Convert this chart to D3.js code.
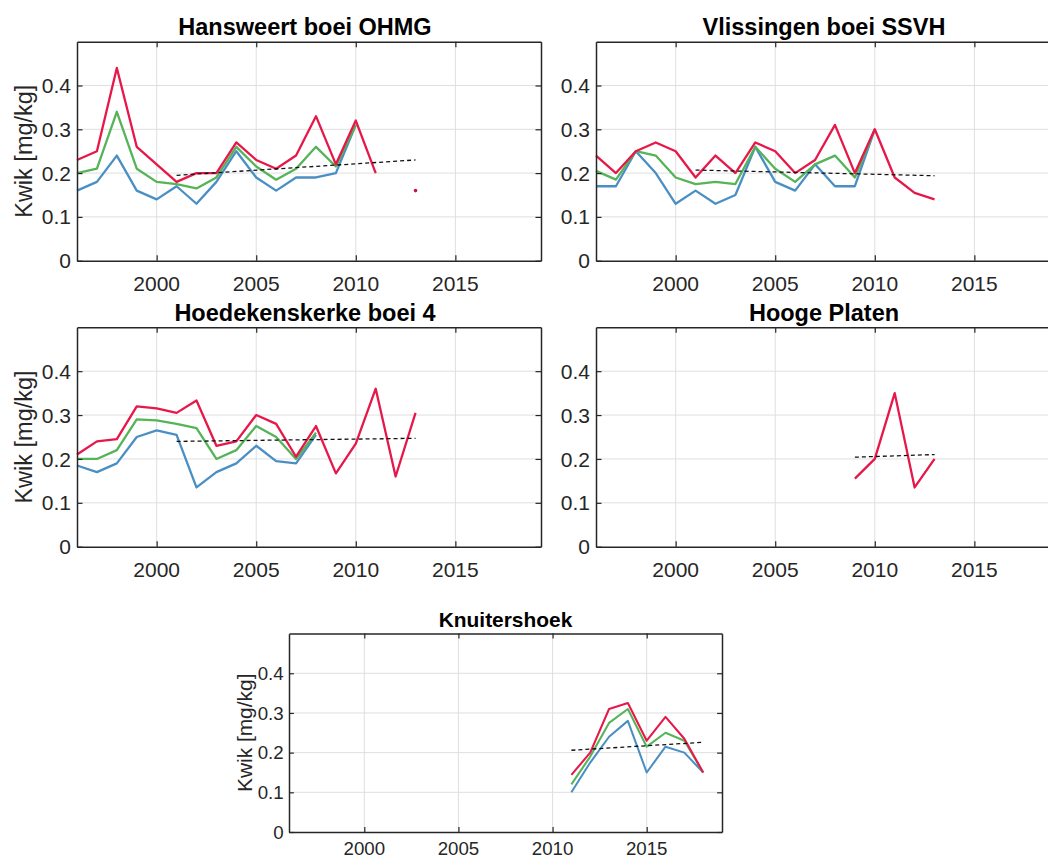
<!DOCTYPE html>
<html>
<head>
<meta charset="utf-8">
<script src="https://cdn.jsdelivr.net/npm/d3@7"></script>
<style>
  html, body { margin: 0; padding: 0; background: #fff; }
  svg { display: block; }
</style>
</head>
<body>
<svg id="chart" width="1048" height="859"></svg>
<script>
// ---------------- DATA ----------------
const titles = ["Hansweert boei OHMG", "Vlissingen boei SSVH", "Hoedekenskerke boei 4", "Hooge Platen", "Knuitershoek"];
const yLabel = "Kwik [mg/kg]";
const xTicks = [2000, 2005, 2010, 2015];
const yTicks = [0, 0.1, 0.2, 0.3, 0.4];
const yTickLabels = ["0", "0.1", "0.2", "0.3", "0.4"];

const yearsA = [1996, 1997, 1998, 1999, 2000, 2001, 2002, 2003, 2004, 2005, 2006, 2007, 2008, 2009, 2010, 2011, 2012, 2013];
const yearsB = [2011, 2012, 2013, 2014, 2015, 2016, 2017, 2018];

const hansweertRed   = [0.23, 0.25, 0.44, 0.26, 0.22, 0.18, 0.20, 0.20, 0.27, 0.23, 0.21, 0.24, 0.33, 0.22, 0.32, 0.20, null, 0.16];
const hansweertGreen = [0.20, 0.21, 0.34, 0.21, 0.18, 0.175, 0.165, 0.19, 0.26, 0.215, 0.185, 0.21, 0.26, 0.215, 0.31, null, null, null];
const hansweertBlue  = [0.16, 0.18, 0.24, 0.16, 0.14, 0.17, 0.13, 0.18, 0.25, 0.19, 0.16, 0.19, 0.19, 0.20, 0.31, null, null, null];

const vlissingenRed   = [0.24, 0.20, 0.25, 0.27, 0.25, 0.19, 0.24, 0.20, 0.27, 0.25, 0.20, 0.23, 0.31, 0.20, 0.30, 0.19, 0.155, 0.14];
const vlissingenGreen = [0.205, 0.185, 0.25, 0.24, 0.19, 0.175, 0.18, 0.175, 0.26, 0.21, 0.18, 0.22, 0.24, 0.19, 0.30, null, null, null];
const vlissingenBlue  = [0.17, 0.17, 0.25, 0.20, 0.13, 0.16, 0.13, 0.15, 0.26, 0.18, 0.16, 0.22, 0.17, 0.17, 0.30, null, null, null];

const hoedekRed   = [0.21, 0.24, 0.245, 0.32, 0.315, 0.305, 0.333, 0.23, 0.24, 0.30, 0.28, 0.205, 0.275, 0.167, 0.235, 0.36, 0.16, 0.305];
const hoedekGreen = [0.20, 0.20, 0.22, 0.29, 0.288, 0.28, 0.27, 0.20, 0.22, 0.275, 0.25, 0.20, 0.26, null, null, null, null, null];
const hoedekBlue  = [0.185, 0.17, 0.19, 0.25, 0.265, 0.255, 0.135, 0.17, 0.19, 0.23, 0.195, 0.19, 0.255, null, null, null, null, null];

const hoogeRed   = [null, null, null, null, null, null, null, null, null, null, null, null, null, 0.155, 0.20, 0.35, 0.135, 0.20];
const hoogeGreen = [null, null, null, null, null, null, null, null, null, null, null, null, null, null, null, null, null, null];
const hoogeBlue  = [null, null, null, null, null, null, null, null, null, null, null, null, null, null, null, null, null, null];

const knuitRed   = [0.144, 0.20, 0.31, 0.325, 0.23, 0.29, 0.235, 0.15];
const knuitGreen = [0.12, 0.19, 0.275, 0.31, 0.215, 0.25, 0.23, 0.15];
const knuitBlue  = [0.10, 0.175, 0.24, 0.28, 0.15, 0.215, 0.20, 0.15];

// trend lines: [startYear, endYear], [startValue, endValue]
const trendYears  = [[2001, 2013], [2001, 2013], [2001, 2013], [2009, 2013], [2011, 2018]];
const trendValues = [[0.195, 0.23], [0.207, 0.194], [0.240, 0.247], [0.204, 0.21], [0.206, 0.226]];

// ---------------- LAYOUT ----------------
const panels = [
  { years: yearsA, red: hansweertRed, green: hansweertGreen, blue: hansweertBlue, left: 77,  top: 41.7,  width: 464, height: 219,   xmax: 2019.3, s: 1, titleDx: -4, tickDy: 30 },
  { years: yearsA, red: vlissingenRed, green: vlissingenGreen, blue: vlissingenBlue, left: 596, top: 41.7, width: 464, height: 219, xmax: 2019.3, s: 1, titleDx: -4, tickDy: 30, noYLabel: true },
  { years: yearsA, red: hoedekRed, green: hoedekGreen, blue: hoedekBlue, left: 77,  top: 327.3, width: 464, height: 219.4, xmax: 2019.3, s: 1, titleDx: -4, tickDy: 30 },
  { years: yearsA, red: hoogeRed, green: hoogeGreen, blue: hoogeBlue, left: 596, top: 327.3, width: 464, height: 219.4, xmax: 2019.3, s: 1, titleDx: -4, tickDy: 30, noYLabel: true },
  { years: yearsB, red: knuitRed, green: knuitGreen, blue: knuitBlue, left: 289, top: 633.6, width: 433, height: 198.4, xmax: 2019, s: 0.89, titleDx: 0, tickDy: 23 }
];

const colors = { red: "#e8174a", green: "#55b358", blue: "#4a8fc4" };
const font = "'Liberation Sans', Arial, Helvetica, sans-serif";

const svg = d3.select("#chart");

panels.forEach((p, i) => {
  const x = d3.scaleLinear().domain([1996, p.xmax]).range([p.left, p.left + p.width]);
  const y = d3.scaleLinear().domain([0, 0.5]).range([p.top + p.height, p.top]);
  const g = svg.append("g");
  const tickLen = 5.5 * p.s;

  // grid
  g.selectAll(".gx").data(xTicks).join("line")
    .attr("x1", d => x(d)).attr("x2", d => x(d))
    .attr("y1", p.top).attr("y2", p.top + p.height)
    .attr("stroke", "#dfdfdf").attr("stroke-width", 1);
  g.selectAll(".gy").data(yTicks.slice(1)).join("line")
    .attr("x1", p.left).attr("x2", p.left + p.width)
    .attr("y1", d => y(d)).attr("y2", d => y(d))
    .attr("stroke", "#dfdfdf").attr("stroke-width", 1);

  // data lines
  const line = d3.line()
    .defined(d => d[1] !== null)
    .x(d => x(d[0])).y(d => y(d[1]));
  ["blue", "green", "red"].forEach(key => {
    const pts = p.years.map((yr, j) => [yr, p[key][j]]);
    g.append("path").datum(pts)
      .attr("d", line)
      .attr("fill", "none")
      .attr("stroke", colors[key])
      .attr("stroke-width", 2.3 * p.s)
      .attr("stroke-linejoin", "round");
    // isolated points
    const iso = pts.filter((d, j) => d[1] !== null &&
      (j === 0 || pts[j - 1][1] === null) && (j === pts.length - 1 || pts[j + 1][1] === null));
    g.selectAll(null).data(iso).join("circle")
      .attr("cx", d => x(d[0])).attr("cy", d => y(d[1]))
      .attr("r", 1.8).attr("fill", "#c0163f");
  });

  // trend
  const tr = trendYears[i].map((yr, j) => [yr, trendValues[i][j]]);
  g.append("path").datum(tr)
    .attr("d", d3.line().x(d => x(d[0])).y(d => y(d[1])))
    .attr("fill", "none").attr("stroke", "#111")
    .attr("stroke-width", 1.3).attr("stroke-dasharray", "4,3");

  // axes (box + inward ticks) via d3 axes
  const axColor = "#262626";
  const bottomAxis = d3.axisBottom(x).tickValues(xTicks).tickSize(-tickLen).tickFormat("");
  const topAxis = d3.axisTop(x).tickValues(xTicks).tickSize(-tickLen).tickFormat("");
  const leftAxis = d3.axisLeft(y).tickValues(yTicks).tickSize(-tickLen).tickFormat("");
  const rightAxis = d3.axisRight(y).tickValues(yTicks).tickSize(-tickLen).tickFormat("");
  const axes = [
    [bottomAxis, `translate(0,${p.top + p.height})`],
    [topAxis, `translate(0,${p.top})`],
    [leftAxis, `translate(${p.left},0)`],
    [rightAxis, `translate(${p.left + p.width},0)`]
  ];
  axes.forEach(([ax, tf]) => {
    const a = g.append("g").attr("transform", tf).call(ax.tickSizeOuter(0));
    a.select(".domain").attr("stroke", axColor).attr("stroke-width", 1.5);
    a.selectAll(".tick line").attr("stroke", axColor).attr("stroke-width", 1.2);
  });

  // tick labels
  g.selectAll(".xl").data(xTicks).join("text")
    .attr("x", d => x(d)).attr("y", p.top + p.height + p.tickDy)
    .attr("text-anchor", "middle")
    .attr("font-family", font).attr("font-size", 21 * p.s)
    .attr("fill", "#262626")
    .text(d => d);
  g.selectAll(".yl").data(yTicks).join("text")
    .attr("x", p.left - 6 * p.s).attr("y", d => y(d))
    .attr("dy", "0.36em")
    .attr("text-anchor", "end")
    .attr("font-family", font).attr("font-size", 21 * p.s)
    .attr("fill", "#262626")
    .text((d, j) => yTickLabels[j]);

  // y label
  if (!p.noYLabel) {
    const lx = p.left - (i === 4 ? 37 : 45);
    const ly = p.top + p.height / 2;
    g.append("text")
      .attr("transform", `translate(${lx},${ly}) rotate(-90)`)
      .attr("text-anchor", "middle")
      .attr("font-family", font).attr("font-size", 23.5 * p.s)
      .attr("fill", "#262626")
      .text(yLabel);
  }

  // title
  g.append("text")
    .attr("x", p.left + p.width / 2 + p.titleDx)
    .attr("y", p.top - 6.3)
    .attr("text-anchor", "middle")
    .attr("font-family", font).attr("font-weight", "bold")
    .attr("font-size", 23.5 * p.s)
    .attr("fill", "#000")
    .text(titles[i]);
});
</script>
</body>
</html>
